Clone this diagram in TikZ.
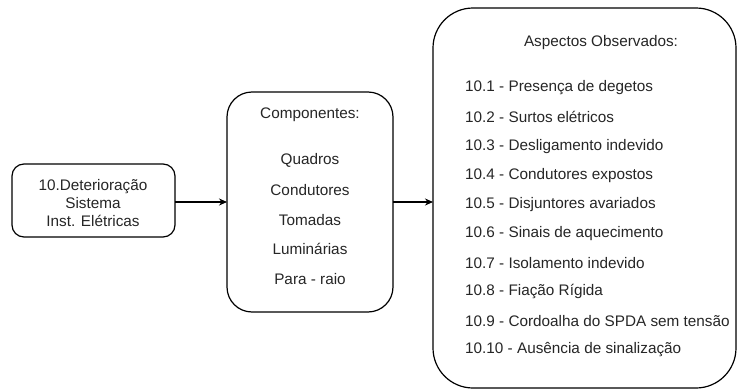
\documentclass[tikz,border=0pt]{standalone}
\usepackage{fontspec}
\setmainfont{Liberation Sans}
\usetikzlibrary{arrows.meta}
\begin{document}
\begin{tikzpicture}[x=1pt,y=-1pt,
  box/.style={draw=black,line width=1.2pt,fill=white},
  lbl/.style={inner sep=0pt,font=\fontsize{15.3}{18}\selectfont,text=black!85},
  conn/.style={line width=1.1pt,-{Stealth[length=8pt,width=7pt]}}]
\useasboundingbox (0,0) rectangle (737,391);
% source box
\draw[box,rounded corners=12pt] (12,164) rectangle (175,237);
\coordinate (srcE) at (175,202);
\node[lbl,align=center] (src) at (93,203) {10.Deterioração\\[0pt]Sistema\\[0pt]Inst. Elétricas};
% components box
\draw[box,rounded corners=25pt] (227,92) rectangle (393,312);
\coordinate (compW) at (227,202);
\coordinate (compE) at (393,202);
\node[lbl] (ctitle) at (310,115) {Componentes:};
\node[lbl] (c1) at (310,160) {Quadros};
\node[lbl] (c2) at (310,190) {Condutores};
\node[lbl] (c3) at (310,220) {Tomadas};
\node[lbl] (c4) at (310,249) {Luminárias};
\node[lbl] (c5) at (310,279) {Para - raio};
% observed aspects box
\draw[box,rounded corners=40pt] (433,8) rectangle (736,388);
\coordinate (aspW) at (433,202);
\node[lbl] (atitle) at (601,43) {Aspectos Observados:};
\foreach \t [count=\i] in {10.1 - Presença de degetos,10.2 - Surtos elétricos,10.3 - Desligamento indevido,10.4 - Condutores expostos,10.5 - Disjuntores avariados,10.6 - Sinais de aquecimento,10.7 - Isolamento indevido,10.8 - Fiação Rígida,10.9 - Cordoalha do SPDA sem tensão,10.10 - Ausência de sinalização}
  \node[lbl,anchor=west] (a\i) at (465,{88+29.1*(\i-1)}) {\t};
% connectors
\draw[conn] (srcE) -- (compW);
\draw[conn] (compE) -- (aspW);
\end{tikzpicture}
\end{document}
